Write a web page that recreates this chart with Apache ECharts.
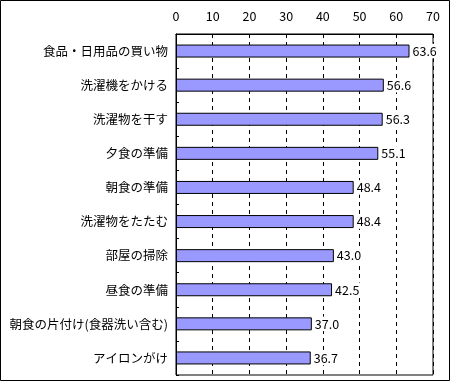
<!DOCTYPE html>
<html><head><meta charset="utf-8">
<script src="https://cdn.jsdelivr.net/npm/echarts@6/dist/echarts.min.js"></script>
<style>html,body{margin:0;padding:0;background:#fff}#c{width:450px;height:381px}</style>
</head><body><div id="c"></div>
<script>
const categories = ["食品・日用品の買い物","洗濯機をかける","洗濯物を干す","夕食の準備","朝食の準備","洗濯物をたたむ","部屋の掃除","昼食の準備","朝食の片付け(食器洗い含む)","アイロンがけ"];
const values = [63.6,56.6,56.3,55.1,48.4,48.4,43.0,42.5,37.0,36.7];
const xTicks = [0,10,20,30,40,50,60,70];
const font = '"Noto Sans CJK JP", sans-serif';
const chart = echarts.init(document.getElementById('c'), null, {renderer:'canvas'});
chart.setOption({
  animation:false,
  backgroundColor:'#fff',
  graphic:[{type:'rect',shape:{x:0.5,y:0.5,width:449,height:380},style:{fill:'none',stroke:'#000',lineWidth:1},silent:true}],
  grid:{left:176,right:17,top:34,bottom:6,show:true,borderColor:'#000',borderWidth:1,backgroundColor:'#fff'},
  xAxis:{type:'value',position:'top',min:xTicks[0],max:xTicks[xTicks.length-1],interval:10,
    axisLine:{show:true,lineStyle:{color:'#000'}},axisTick:{show:false},
    axisLabel:{color:'#000',fontSize:12.5,fontFamily:font,margin:11},
    splitLine:{show:true,lineStyle:{color:'#000',type:[4,4],width:1}}},
  yAxis:{type:'category',data:categories,inverse:true,
    axisLine:{show:true,lineStyle:{color:'#000'}},
    axisTick:{show:true,inside:true,length:3,lineStyle:{color:'#000'}},
    axisLabel:{color:'#000',fontSize:12.5,fontFamily:font,margin:8}},
  series:[{type:'bar',data:values,barWidth:13,
    itemStyle:{color:'#9999ff',borderColor:'#000',borderWidth:1},
    label:{show:true,position:'right',distance:2,color:'#000',fontSize:12.5,fontFamily:font,
      backgroundColor:'#fff',padding:[1,1,1,1],
      formatter:p=>p.value.toFixed(1)}}]
});
</script></body></html>
